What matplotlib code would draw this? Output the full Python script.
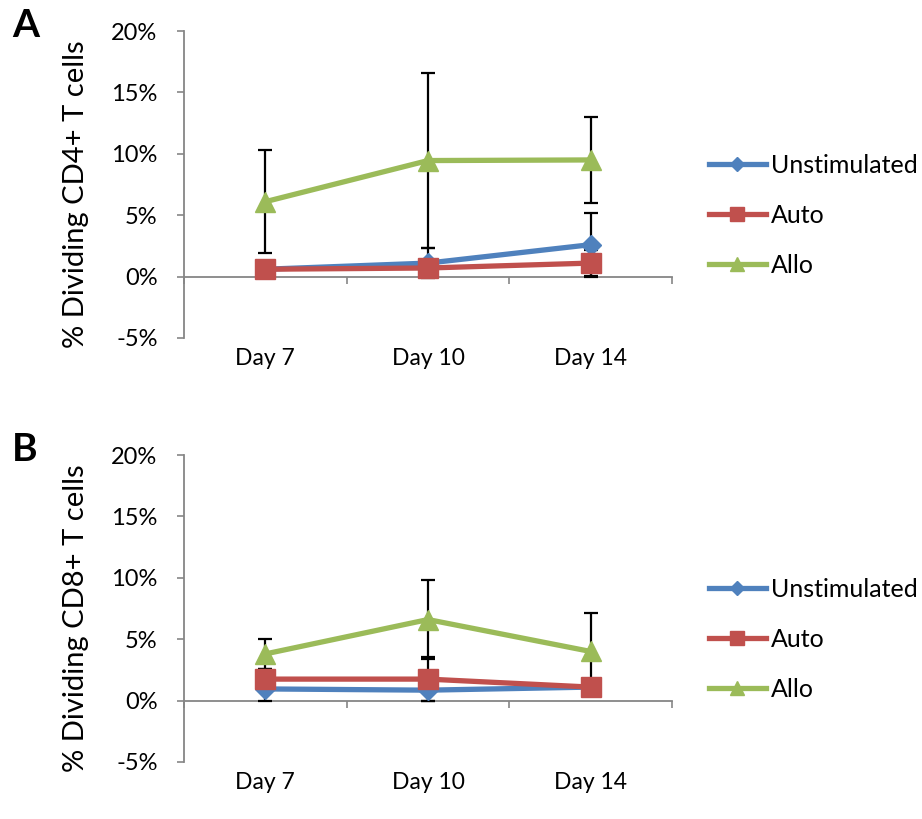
import matplotlib
matplotlib.use('Agg')
import matplotlib.pyplot as plt
import matplotlib.ticker as mtick

plt.rcParams['font.family'] = ['Lato', 'DejaVu Sans']

days = ['Day 7', 'Day 10', 'Day 14']
series = ['Unstimulated', 'Auto', 'Allo']

# panel A: CD4+
unstim_a = [0.6, 1.1, 2.6]
unstim_a_err = [0.5, 1.2, 2.55]
auto_a = [0.6, 0.7, 1.1]
auto_a_err = [0.4, 0.5, 1.1]
allo_a = [6.1, 9.45, 9.5]
allo_a_err = [4.2, 7.1, 3.5]

# panel B: CD8+
unstim_b = [0.95, 0.85, 1.1]
unstim_b_err = [0.95, 0.9, 0.3]
auto_b = [1.75, 1.75, 1.1]
auto_b_err = [0.85, 1.8, 0.3]
allo_b = [3.8, 6.6, 4.0]
allo_b_err = [1.2, 3.2, 3.1]

colors = ['#4F81BD', '#C0504D', '#9BBB59']
markers = ['D', 's', '^']
msizes = [10, 14, 14]
axis_gray = '#868686'

fig = plt.figure(figsize=(9.22, 8.19), dpi=100)
ax_a = fig.add_axes([184/922, 1 - 338/819, 488/922, 307/819])
ax_b = fig.add_axes([184/922, 1 - 762/819, 488/922, 307/819])


def draw_panel(ax, data, errs, ylabel, letter):
    x = list(range(len(days)))
    for i, (vals, err) in enumerate(zip(data, errs)):
        ax.errorbar(x, vals, yerr=err, fmt='none', ecolor='black', elinewidth=1.6,
                    capsize=5, capthick=1.6, zorder=2 + i * 0.1)
        ax.plot(x, vals, color=colors[i], marker=markers[i], markersize=msizes[i],
                linewidth=3.8, label=series[i], zorder=3 + i)

    ax.set_xlim(-0.5, 2.5)
    ax.set_ylim(-5, 20)
    ax.set_yticks([-5, 0, 5, 10, 15, 20])
    ax.yaxis.set_major_formatter(mtick.FormatStrFormatter('%d%%'))
    ax.tick_params(axis='y', direction='out', length=5, width=1.2, color=axis_gray,
                   labelsize=17, pad=14)

    ax.set_xticks(x)
    ax.set_xticklabels(days)
    ax.tick_params(axis='x', length=0, labelsize=16.5, pad=7)

    for s in ['top', 'right', 'bottom']:
        ax.spines[s].set_visible(False)
    ax.spines['left'].set_color(axis_gray)
    ax.spines['left'].set_linewidth(1.3)

    # category axis crossing at 0%
    sec = ax.secondary_xaxis(0.2)
    sec.set_xticks([-0.5, 0.5, 1.5, 2.5])
    sec.set_xticklabels([])
    sec.spines['bottom'].set_color(axis_gray)
    sec.spines['bottom'].set_linewidth(1.3)
    sec.tick_params(direction='out', length=5, width=1.2, color=axis_gray)

    ax.set_ylabel(ylabel, fontsize=21)
    ax.yaxis.set_label_coords(-0.195, 0.47)
    ax.text(-0.352, 1.075, letter, transform=ax.transAxes, fontsize=28, fontweight='bold',
            va='top', ha='left')

    ax.legend(loc='center left', bbox_to_anchor=(1.075, 0.40), frameon=False,
              fontsize=18, handlelength=2.3, handletextpad=0.2, labelspacing=1.08,
              borderaxespad=0, borderpad=0, markerscale=0.75)


draw_panel(ax_a, [unstim_a, auto_a, allo_a], [unstim_a_err, auto_a_err, allo_a_err],
           '% Dividing CD4+ T cells', 'A')
draw_panel(ax_b, [unstim_b, auto_b, allo_b], [unstim_b_err, auto_b_err, allo_b_err],
           '% Dividing CD8+ T cells', 'B')

fig.savefig('out.png', dpi=100)
